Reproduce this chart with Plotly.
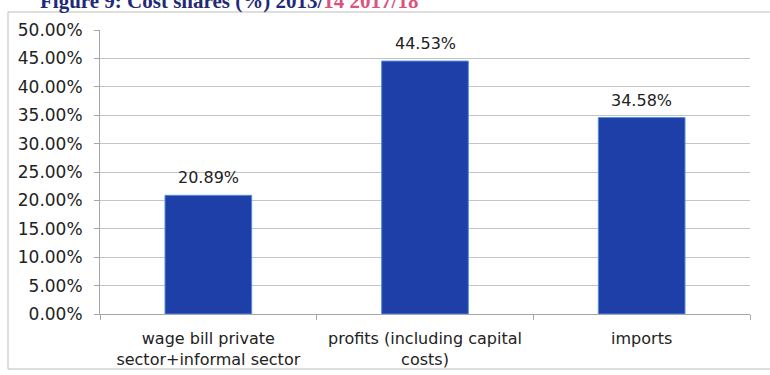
import plotly.graph_objects as go

# Cost shares by component
categories = [
    "wage bill private<br>sector+informal sector",
    "profits (including capital<br>costs)",
    "imports",
]
shares = [0.2089, 0.4453, 0.3458]
y_ticks = [0.0, 0.05, 0.10, 0.15, 0.20, 0.25, 0.30, 0.35, 0.40, 0.45, 0.50]

W, H = 770, 375
M_L, M_R, M_T, M_B = 100, 20, 30, 61
PLOT_W = W - M_L - M_R
PLOT_H = H - M_T - M_B


def px_x(x):
    return (x - M_L) / PLOT_W


def px_y(y):
    return (H - M_B - y) / PLOT_H


FONT = "DejaVu Sans"
TEXT = "#222222"

fig = go.Figure()
fig.add_trace(
    go.Bar(
        x=categories,
        y=shares,
        width=0.4,
        marker=dict(color="#1e3fa8", line=dict(color="#4f8fdc", width=1)),
        hoverinfo="skip",
    )
)

# value labels above each bar
for c, v in zip(categories, shares):
    fig.add_annotation(
        x=c, y=v, text=f"{v * 100:.2f}%", showarrow=False,
        yanchor="bottom", yshift=6,
        font=dict(family=FONT, size=16, color=TEXT),
    )

# chart frame
fig.add_shape(
    type="rect", xref="paper", yref="paper",
    x0=px_x(8), x1=px_x(775), y0=px_y(369), y1=px_y(12),
    line=dict(color="#bdbdbd", width=1), fillcolor="rgba(0,0,0,0)",
    layer="below",
)

# figure caption, running off the top edge
fig.add_annotation(
    xref="paper", yref="paper", x=px_x(38), y=px_y(1),
    xanchor="left", yanchor="middle", showarrow=False,
    text="<b>Figure 9: Cost shares (%) 2013/</b><b><span style='color:#d9557f'>14 2017/18</span></b>",
    font=dict(family="Liberation Serif", size=21, color="#1f2a78"),
)

fig.update_layout(
    width=W, height=H,
    margin=dict(l=M_L, r=M_R, t=M_T, b=M_B, autoexpand=False),
    paper_bgcolor="white", plot_bgcolor="white",
    showlegend=False,
    bargap=0.6,
    xaxis=dict(
        automargin=False,
        showline=True, linecolor="#a6a6a6", linewidth=1,
        ticks="outside", tickson="boundaries", ticklen=5, tickcolor="#a6a6a6",
        showgrid=False,
        ticklabelstandoff=10,
        tickfont=dict(family=FONT, size=16, color=TEXT),
    ),
    yaxis=dict(
        automargin=False,
        range=[0, 0.5],
        tickvals=y_ticks,
        tickformat=".2%",
        showline=True, linecolor="#a6a6a6", linewidth=1,
        ticks="outside", ticklen=5, tickcolor="#a6a6a6",
        showgrid=True, gridcolor="#c4c4c4", gridwidth=1,
        zeroline=False,
        ticklabelstandoff=8,
        tickfont=dict(family=FONT, size=17, color=TEXT),
    ),
)

fig.write_html("out.html")
